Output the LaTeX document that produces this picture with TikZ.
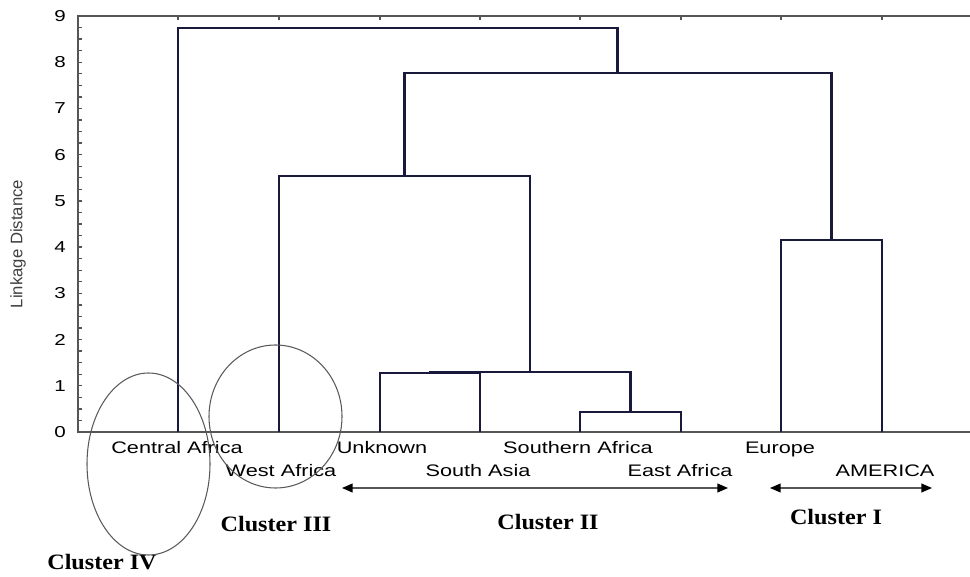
\documentclass[tikz,border=0pt]{standalone}
\usepackage{fontspec}
\setmainfont{Liberation Sans}
\newfontfamily\labfont[FakeStretch=1.3]{Liberation Sans}
\newfontfamily\clusfont[FakeStretch=1.1]{Liberation Serif}
\usetikzlibrary{arrows.meta}
\definecolor{den_c}{RGB}{25,25,60}
\definecolor{axis_c}{RGB}{85,85,85}

\begin{document}
\begin{tikzpicture}[
  x=0.02cm, y=-0.02cm,
  den/.style={den_c, line width=1.3pt},
  ax/.style={axis_c, line width=0.8pt},
  lf/.style={font={\fontsize{9.5}{11}\labfont}, anchor=base, inner sep=0pt},
  tk/.style={font={\fontsize{9}{10}\labfont}, inner sep=0pt},
  cl/.style={font={\fontsize{12.5}{14}\clusfont\bfseries}, anchor=base, inner sep=0pt},
  span/.style={axis_c, line width=0.7pt, {Triangle[length=6pt,width=5pt,color=black]}-{Triangle[length=6pt,width=5pt,color=black]}},
  ring/.style={black!65, line width=0.6pt},
]
\useasboundingbox (0,0) rectangle (970,577);
% axes
\draw[ax] (970,16) -- (78,16) -- (78,432) -- (970,432);
\foreach \k in {0,...,36}
  \draw[ax] (78,{432-11.555*\k}) -- ++(4,0);
\foreach \v in {0,...,9}
  \node[tk] (t\v) at (60,{432-46.22*\v}) {\v};
\foreach \x in {178,279,380,480,580,681,781,882}
  \draw[ax] (\x,16) -- ++(0,4);
\node[font=\fontsize{9.5}{11}\selectfont, text=black!75, rotate=90] (ylab) at (18,244) {Linkage Distance};
% leaves
\coordinate (cafr)  at (178,432);
\coordinate (wafr)  at (279,432);
\coordinate (unkn)  at (380,432);
\coordinate (sasia) at (480,432);
\coordinate (safr)  at (580,432);
\coordinate (eafr)  at (681,432);
\coordinate (euro)  at (781,432);
\coordinate (amer)  at (882,432);
% merges
\coordinate (us)   at (430,373.3);
\coordinate (se)   at (630.5,412);
\coordinate (usse) at (530,372.3);
\coordinate (wus)  at (404.5,176);
\coordinate (eam)  at (831.5,240);
\coordinate (big)  at (617.5,73);
\coordinate (root) at (397.75,28);
\draw[den] (unkn) |- (us) -| (sasia);
\draw[den] (safr) |- (se) -| (eafr);
\draw[den] (us) |- (usse) -| (se);
\draw[den] (wafr) |- (wus) -| (usse);
\draw[den] (euro) |- (eam) -| (amer);
\draw[den] (wus) |- (big) -| (eam);
\draw[den] (cafr) |- (root) -| (big);
% labels
\node[lf] (lcafr)  at (177,453) {Central Africa};
\node[lf] (lunkn)  at (382,453) {Unknown};
\node[lf] (lsafr)  at (578,453) {Southern Africa};
\node[lf] (leuro)  at (780,453) {Europe};
\node[lf] (lwafr)  at (281,476) {West Africa};
\node[lf] (lsasia) at (478,476) {South Asia};
\node[lf] (leafr)  at (680,476) {East Africa};
\node[lf] (lamer)  at (885,476) {AMERICA};
% clusters
\coordinate (c2l) at (342,488);
\coordinate (c2r) at (728,488);
\coordinate (c1l) at (770,488);
\coordinate (c1r) at (932,488);
\draw[span] (c2l) -- (c2r);
\draw[span] (c1l) -- (c1r);
\node[cl] (cl1) at (836,524) {Cluster I};
\node[cl] (cl2) at (548,529) {Cluster II};
\node[cl] (cl3) at (276,531) {Cluster III};
\node[cl] (cl4) at (102,569) {Cluster IV};
\draw[ring] (148.5,464) ellipse [x radius=61.5, y radius=91];
\draw[ring] (275.5,416.5) ellipse [x radius=66.5, y radius=71.5];
\end{tikzpicture}
\end{document}
